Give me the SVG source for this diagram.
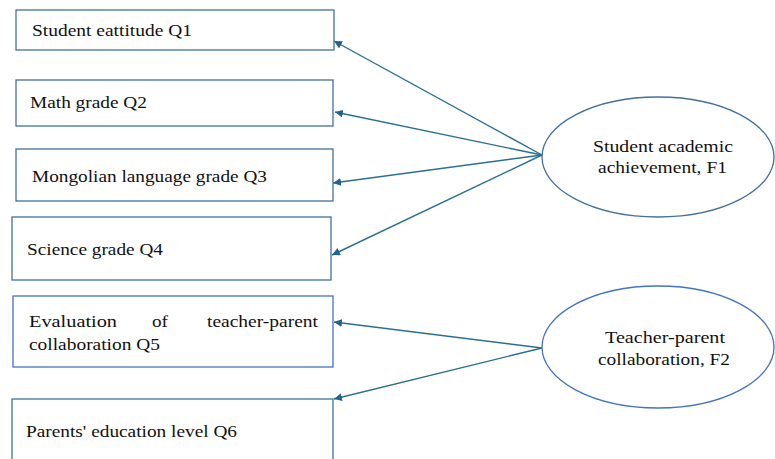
<svg xmlns="http://www.w3.org/2000/svg" width="775" height="459" viewBox="0 0 775 459">
<style>
.box{fill:#fff;stroke:#41719C;stroke-width:1.3}
.box2{fill:#fff;stroke:#4472C4;stroke-width:1.3}
.t{font-family:'Liberation Serif','Times New Roman','DejaVu Serif',serif;font-size:17.5px;fill:#111}
.c{stroke:#2A6F91;stroke-width:1.4;fill:none;marker-end:url(#ah)}
</style>
<defs>
<marker id="ah" viewBox="0 0 10 10" refX="10" refY="5" markerWidth="8" markerHeight="8" markerUnits="userSpaceOnUse" orient="auto">
<path d="M0,0 L10,5 L0,10 z" fill="#1F6390"/>
</marker>
</defs>
<rect width="775" height="459" fill="#fff"/>
<g id="connectors">
<line class="c" x1="542" y1="155" x2="334" y2="41"/>
<line class="c" x1="542" y1="155" x2="335" y2="112"/>
<line class="c" x1="542" y1="155" x2="333" y2="183"/>
<line class="c" x1="542" y1="155" x2="332" y2="255"/>
<line class="c" x1="542" y1="348" x2="334" y2="322"/>
<line class="c" x1="542" y1="348" x2="334" y2="399"/>
</g>
<g id="q1"><rect class="box" x="16" y="10" width="318" height="40"/><text class="t" x="32" y="36" textLength="160" lengthAdjust="spacingAndGlyphs">Student eattitude Q1</text></g>
<g id="q2"><rect class="box" x="16" y="80" width="317" height="46"/><text class="t" x="30" y="108" textLength="117" lengthAdjust="spacingAndGlyphs">Math grade Q2</text></g>
<g id="q3"><rect class="box" x="16" y="149" width="317" height="52"/><text class="t" x="32" y="182" textLength="235" lengthAdjust="spacingAndGlyphs">Mongolian language grade Q3</text></g>
<g id="q4"><rect class="box" x="12" y="217" width="319" height="63"/><text class="t" x="27" y="255" textLength="136" lengthAdjust="spacingAndGlyphs">Science grade Q4</text></g>
<g id="q5"><rect class="box2" x="13" y="296" width="320" height="71"/>
<text class="t" x="29" y="327" textLength="88" lengthAdjust="spacingAndGlyphs">Evaluation</text><text class="t" x="152" y="327" textLength="16" lengthAdjust="spacingAndGlyphs">of</text><text class="t" x="207" y="327" textLength="111" lengthAdjust="spacingAndGlyphs">teacher-parent</text>
<text class="t" x="29" y="350" textLength="131" lengthAdjust="spacingAndGlyphs">collaboration Q5</text></g>
<g id="q6"><rect class="box" x="12" y="399" width="321" height="70"/><text class="t" x="26" y="437" textLength="211" lengthAdjust="spacingAndGlyphs">Parents' education level Q6</text></g>
<g id="f1"><ellipse cx="658" cy="157" rx="116" ry="60" fill="#fff" stroke="#41719C" stroke-width="1.3"/>
<text class="t" x="593" y="152" textLength="140" lengthAdjust="spacingAndGlyphs">Student academic</text><text class="t" x="598" y="173" textLength="129" lengthAdjust="spacingAndGlyphs">achievement, F1</text></g>
<g id="f2"><ellipse cx="658" cy="347" rx="116" ry="61" fill="#fff" stroke="#4472C4" stroke-width="1.3"/>
<text class="t" x="605" y="343" textLength="120" lengthAdjust="spacingAndGlyphs">Teacher-parent</text><text class="t" x="598" y="365" textLength="132" lengthAdjust="spacingAndGlyphs">collaboration, F2</text></g>
</svg>
